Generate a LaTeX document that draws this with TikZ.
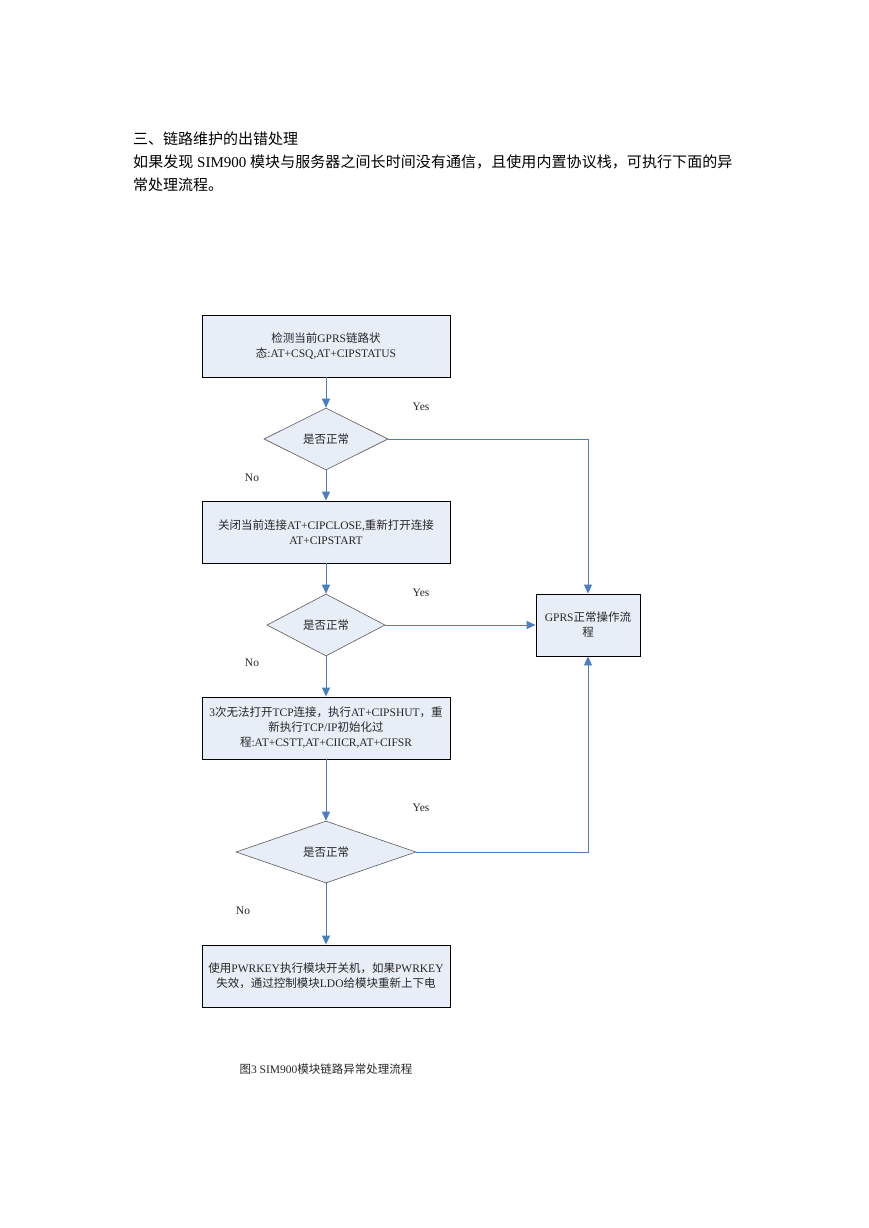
\documentclass[tikz,border=0pt]{standalone}
\usepackage{fontspec}
\setmainfont{Liberation Serif}
\newfontfamily\cjk{Noto Sans CJK SC}
\newfontfamily\cjkls[LetterSpace=0.5]{Noto Sans CJK SC}
\usetikzlibrary{arrows.meta,shapes.geometric}
\newcommand\zh[1]{{\cjk #1}}
\newcommand\zhs[1]{{\cjkls #1}}
\definecolor{boxfill}{RGB}{232,238,248}
\definecolor{flowblue}{RGB}{74,126,190}
\definecolor{dgray}{RGB}{90,90,90}
\begin{document}
\begin{tikzpicture}[x=1pt,y=-1pt,
  every node/.style={font=\fontsize{11.5}{15}\selectfont, text=black!85},
  procbox/.style={draw=black, line width=0.9pt, fill=boxfill, minimum width=248pt, minimum height=62pt, align=center, inner sep=1pt},
  decide/.style={diamond, draw=dgray, line width=0.6pt, fill=boxfill, inner sep=0pt, aspect=2, minimum height=62pt},
  flow/.style={draw=flowblue, line width=0.9pt, -{Triangle[length=9pt,width=8pt]}},
  lbl/.style={inner sep=0pt},
  head/.style={anchor=base west, inner sep=0pt, font=\fontsize{15}{18}\selectfont, text=black}
]
\useasboundingbox (0,0) rectangle (869,1228);

% header text
\node[head] (h1) at (133,144) {\zh{三、链路维护的出错处理}};
\node[head] (h2) at (133,167) {\zhs{如果发现} SIM900 \zhs{模块与服务器之间长时间没有通信，且使用内置协议栈，可执行下面的异}};
\node[head] (h3) at (133,190) {\zh{常处理流程。}};

% nodes
\node[procbox] (b1) at (326,346) {\zh{检测当前}GPRS\zh{链路状}\\\zh{态}:AT+CSQ,AT+CIPSTATUS};
\node[decide, minimum width=124pt] (d1) at (326,439) {\zh{是否正常}};
\node[procbox] (b2) at (326,532) {\zh{关闭当前连接}AT+CIPCLOSE,\zh{重新打开连接}\\AT+CIPSTART};
\node[decide, minimum width=118pt] (d2) at (326,625) {\zh{是否正常}};
\node[procbox] (b3) at (326,728) {3\zh{次无法打开}TCP\zh{连接，执行}AT+CIPSHUT\zh{，重}\\\zh{新执行}TCP/IP\zh{初始化过}\\\zh{程}:AT+CSTT,AT+CIICR,AT+CIFSR};
\node[decide, minimum width=180pt] (d3) at (326,852) {\zh{是否正常}};
\node[procbox] (b4) at (326,976) {\zh{使用}PWRKEY\zh{执行模块开关机，如果}PWRKEY\\\zh{失效，通过控制模块}LDO\zh{给模块重新上下电}};
\node[procbox, minimum width=104pt] (g) at (588,625) {GPRS\zh{正常操作流}\\\zh{程}};

% labels
\node[lbl] (y1) at (421,407) {Yes};
\node[lbl] (y2) at (421,593) {Yes};
\node[lbl] (y3) at (421,808) {Yes};
\node[lbl] (n1) at (252,478) {No};
\node[lbl] (n2) at (252,663) {No};
\node[lbl] (n3) at (243,911) {No};

\node[lbl] (cap) at (326,1069) {\zh{图}3 SIM900\zh{模块链路异常处理流程}};

% connectors
\draw[flow] (b1.south) -- (d1.north);
\draw[flow] (d1.south) -- (b2.north);
\draw[flow] (b2.south) -- (d2.north);
\draw[flow] (d2.south) -- (b3.north);
\draw[flow] (b3.south) -- (d3.north);
\draw[flow] (d3.south) -- (b4.north);
\draw[flow] (d1.east) -| (g.north);
\draw[flow] (d2.east) -- (g.west);
\draw[flow] (d3.east) -| (g.south);
\end{tikzpicture}
\end{document}
